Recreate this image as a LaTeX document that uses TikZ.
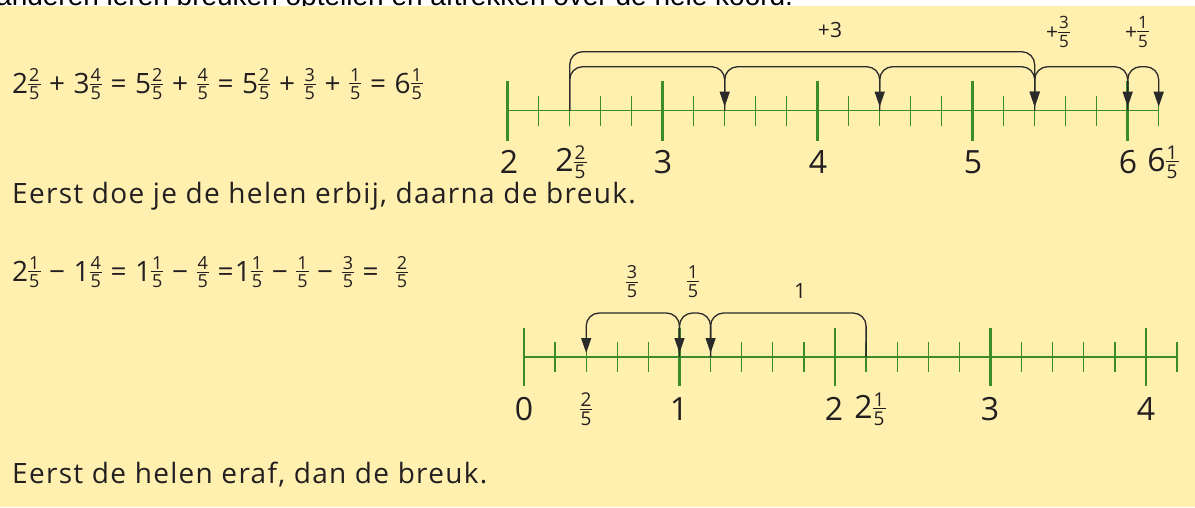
\documentclass[tikz,border=0pt]{standalone}
\usepackage{fontspec}
\setmainfont{Open Sans}
\newfontfamily\headfont{Liberation Sans}
\newfontfamily\wideopen[LetterSpace=4.7]{Open Sans}
\usetikzlibrary{arrows.meta}
\definecolor{bgYellow}{HTML}{FFF0B0}
\definecolor{lineGreen}{HTML}{3C8C2C}
\definecolor{jumpInk}{HTML}{2A2A2A}
\definecolor{textInk}{HTML}{231F20}
% stacked fraction: size and gap are set by the node style
\newcommand{\frsize}{\fontsize{16}{16}\selectfont}
\newcommand{\frkern}{2pt}
\newcommand{\fr}[2]{\raisebox{0.1em}{$\vcenter{\hbox{\frsize\vbox{\offinterlineskip
  \halign{\hfil\kern1pt##\kern1pt\hfil\cr
    #1\cr\noalign{\kern\frkern\hrule height 0.9pt\kern\frkern}
    #2\cr}}}}$}}
\newcommand{\bigtxt}{\fontsize{28}{32}\selectfont}
\newcommand{\lbltxt}{\fontsize{32}{36}\selectfont}
\newcommand{\jmptxt}{\fontsize{21}{25}\selectfont}

\begin{document}
\begin{tikzpicture}[x=1pt, y=-1pt,
  major/.style={lineGreen, line width=2.8pt},
  minor/.style={lineGreen, line width=1.3pt},
  jump/.style={jumpInk, line width=1.3pt, rounded corners=13pt,
    -{Triangle[length=15pt,width=10pt]}, shorten >=4pt},
  txt/.style={text=textInk, font=\wideopen\bigtxt, inner sep=0pt, anchor=west},
  som/.style={text=textInk, font={\wideopen\bigtxt\def\frsize{\fontsize{18}{18}\selectfont}\def\frkern{1.8pt}},
    inner sep=0pt, anchor=west},
  lbl/.style={text=textInk, font={\lbltxt\def\frsize{\fontsize{19}{19}\selectfont}\def\frkern{2.4pt}}, inner sep=0pt},
  jlbl/.style={text=textInk, font={\jmptxt\def\frsize{\fontsize{17}{17}\selectfont}\def\frkern{2.5pt}}, inner sep=0pt},
  jlbl2/.style={jlbl, font={\jmptxt\def\frsize{\fontsize{18}{18}\selectfont}\def\frkern{2.5pt}}}]
\useasboundingbox (0,0) rectangle (1195,507);
% --- page strip and yellow box ---
\fill[white] (0,0) rectangle (1195,6);
\begin{scope}
  \clip (0,0) rectangle (1195,6);
  \node[anchor=base west, inner sep=0pt, font=\headfont\fontsize{28}{32}\selectfont] (kop) at (-4,5)
    {anderen leren breuken optellen en aftrekken over de hele koord.};
\end{scope}
\fill[bgYellow] (0,6) rectangle (1195,507);

% --- sum: 2 2/5 + 3 4/5 ---
\node[som] (som) at (12,84) {2\fr25 + 3\fr45 = 5\fr25 + \fr45 = 5\fr25 + \fr35 + \fr15 = 6\fr15};
\foreach \k in {0,...,21} {\coordinate (a\k) at ({507.7+31*\k},110.7);}
\draw[lineGreen, line width=1.5pt] (a0) -- (a21);
\foreach \k in {0,...,21} {\draw[minor] (a\k) ++(0,-15) -- ++(0,30);}
\foreach \k in {0,5,10,15,20} {\draw[major] (a\k) ++(0,-30) -- ++(0,60);}
% jumps of one
\draw[jump] (a2) -- ++(0,-44) -| (a7);
\draw[jump] (a7) -- ++(0,-44) -| (a12);
\draw[jump] (a12) -- ++(0,-44) -| (a17);
\draw[jump] (a2) -- ++(0,-59) -| (a17);
% fractions
\draw[jump] (a17) -- ++(0,-44) -| (a20);
\draw[jump] (a20) -- ++(0,-44) -| (a21);
\node[jlbl] (plus3) at (830,30) {+3};
\node[jlbl] (plus35) at (1058,32) {+\fr35};
\node[jlbl] (plus15) at (1137,32) {+\fr15};
% labels
\node[lbl] (l2) at (509,162) {2};
\node[lbl] (l225) at (571,162) {2\fr25};
\node[lbl] (l3) at (663,162) {3};
\node[lbl] (l4) at (818,162) {4};
\node[lbl] (l5) at (973,162) {5};
\node[lbl] (l6) at (1128,162) {6};
\node[lbl] (l615) at (1163,162) {6\fr15};
\node[txt] (uitleg1) at (12,196) {Eerst doe je de helen erbij, daarna de breuk.};

% --- difference: 2 1/5 - 1 4/5 ---
\node[som] (verschil) at (12,272) {2\fr15 − 1\fr45 = 1\fr15 − \fr45 =1\fr15 − \fr15 − \fr35 = ~\fr25};
\foreach \k in {0,...,21} {\coordinate (b\k) at ({524+31.1*\k},357);}
\draw[lineGreen, line width=1.5pt] (b0) -- (b21);
\foreach \k in {0,...,21} {\draw[minor] (b\k) ++(0,-15) -- ++(0,30);}
\foreach \k in {0,5,10,15,20} {\draw[major] (b\k) ++(0,-29) -- ++(0,58);}
\draw[jump] (b11) -- ++(0,-44) -| (b6);
\draw[jump] (b6) -- ++(0,-44) -| (b5);
\draw[jump] (b5) -- ++(0,-44) -| (b2);
\node[jlbl2] (min35) at (632,282) {\fr35};
\node[jlbl2] (min15) at (693,282) {\fr15};
\node[jlbl] (min1) at (800,291) {1};
\node[lbl] (m0) at (524,409) {0};
\node[lbl] (m25) at (586,409) {\fr25};
\node[lbl] (m1) at (679,409) {1};
\node[lbl] (m2) at (834,409) {2};
\node[lbl] (m215) at (870,409) {2\fr15};
\node[lbl] (m3) at (990,409) {3};
\node[lbl] (m4) at (1146,409) {4};
\node[txt] (uitleg2) at (12,475) {Eerst de helen eraf, dan de breuk.};
\end{tikzpicture}
\end{document}
